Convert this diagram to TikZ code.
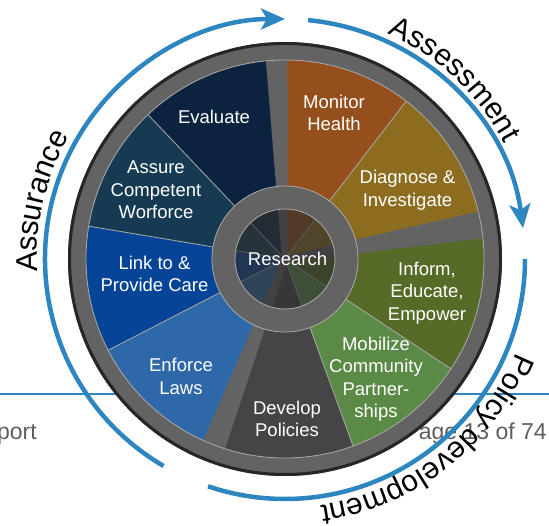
\documentclass[tikz,border=0pt]{standalone}
\usepackage{fontspec}
\setmainfont{Liberation Sans}
\usepackage{tikz}
\usetikzlibrary{calc,arrows.meta,decorations.text}

\definecolor{evalc}{HTML}{0C2340}
\definecolor{assurec}{HTML}{163A52}
\definecolor{linkc}{HTML}{064497}
\definecolor{enforcec}{HTML}{2F68A8}
\definecolor{developc}{HTML}{454545}
\definecolor{mobilizec}{HTML}{5A8A46}
\definecolor{informc}{HTML}{556B27}
\definecolor{diagnosec}{HTML}{8C6D1F}
\definecolor{monitorc}{HTML}{944F1C}
\definecolor{ringc}{HTML}{636363}
\definecolor{rimc}{HTML}{262626}
\definecolor{seamc}{HTML}{ABABAB}
\definecolor{hubshade}{HTML}{303030}
\definecolor{arcblue}{HTML}{2E86C1}
\definecolor{footc}{HTML}{5E5E5E}

\newcommand{\segfont}{\fontsize{18.5}{22.5}\selectfont}
\newcommand{\arcfont}{\fontsize{30}{30}\selectfont}

\tikzset{
  seglabel/.style={text=white, align=center, font=\segfont, inner sep=0},
  cyclearc/.style={draw=arcblue, line width=4.5pt},
  seam/.style={draw=seamc, line width=0.8pt},
  footer/.style={text=footc, font=\fontsize{23}{23}\selectfont, inner sep=0},
  bigtip/.style={-{Stealth[length=24pt,width=21pt,inset=6pt]}}
}

\begin{document}
\begin{tikzpicture}[x=1pt,y=1pt]
  \useasboundingbox (-285,-266) rectangle (264,259);
  \fill[white] (-285,-266) rectangle (264,259);

  % page footer, behind the wheel
  \draw[arcblue, line width=2pt] (-285,-135) -- (264,-135);
  \node[footer, anchor=base east] (pageleft) at (-248,-180) {port};
  \node[footer, anchor=base east] (pageright) at (262,-180) {Page 13 of 74};

  % rim
  \fill[ringc] (0,0) circle[radius=217];
  \draw[rimc, line width=3pt] (0,0) circle[radius=215.5];

  % services
  \foreach \a/\b/\c in {92.4/52.5/monitorc, 52.5/9.9/diagnosec, 9.9/-33.5/informc,
                        -33.5/-70/mobilizec, -70/-110.9/developc, -110.9/-152.7/enforcec,
                        207.3/170.5/linkc, 170.5/133.5/assurec, 133.5/92.4/evalc}
    \fill[\c] (0,0) -- (\a:199) arc[start angle=\a, end angle=\b, radius=199] -- cycle;

  \foreach \a in {52.5,-33.5,-70,-152.7,170.5,133.5}
    \draw[seam] (0,0) -- (\a:199);

  % spokes
  \foreach \p/\w in {92.4/11, 9.9/14, -110.9/12}
    \fill[ringc] ($(\p:205)+(\p+90:\w)$) -- ($(\p:205)+(\p-90:\w)$) -- (\p-90:3) -- (\p+90:3) -- cycle;

  \draw[seam] (0,0) circle[radius=199];

  % hub
  \fill[ringc, even odd rule] (0,0) circle[radius=73] circle[radius=50];
  \fill[hubshade, opacity=0.65] (0,0) circle[radius=50];
  \draw[seam] (0,0) circle[radius=73] (0,0) circle[radius=50];

  \node[seglabel] (research) at (2.5,0.5) {Research};
  \node[seglabel] (monitor) at (49,146) {Monitor\\Health};
  \node[seglabel] (diagnose) at (122.5,69) {Diagnose \&\\Investigate};
  \node[seglabel] (inform) at (142,-34) {Inform,\\Educate,\\Empower};
  \node[seglabel] (mobilize) at (91,-120) {Mobilize\\Community\\Partner-\\ships};
  \node[seglabel] (develop) at (2,-160) {Develop\\Policies};
  \node[seglabel] (enforce) at (-104,-117.5) {Enforce\\Laws};
  \node[seglabel] (link) at (-130.5,-15) {Link to \&\\Provide Care};
  \node[seglabel] (assure) at (-129,69) {Assure\\Competent\\Worforce};
  \node[seglabel] (evaluate) at (-71,142) {Evaluate};

  % cycle arcs
  \draw[cyclearc, bigtip] (239.6:240) arc[start angle=239.6, end angle=90, radius=240];
  \draw[cyclearc, bigtip] (84.5:240) arc[start angle=84.5, end angle=7.4, radius=240];
  \draw[cyclearc] (0:240) arc[start angle=0, end angle=-108.7, radius=240];

  \path[decorate, decoration={text along path, text={|\arcfont|Assurance}}]
    (183:248) arc[start angle=183, end angle=140, radius=248];
  \path[decorate, decoration={text along path, text={|\arcfont|Assessment}}]
    (65.5:248) arc[start angle=65.5, end angle=20, radius=248];
  \path[decorate, decoration={text along path, text={|\arcfont|Policy development}}]
    (-22:249) arc[start angle=-22, end angle=-95, radius=249];
\end{tikzpicture}
\end{document}
